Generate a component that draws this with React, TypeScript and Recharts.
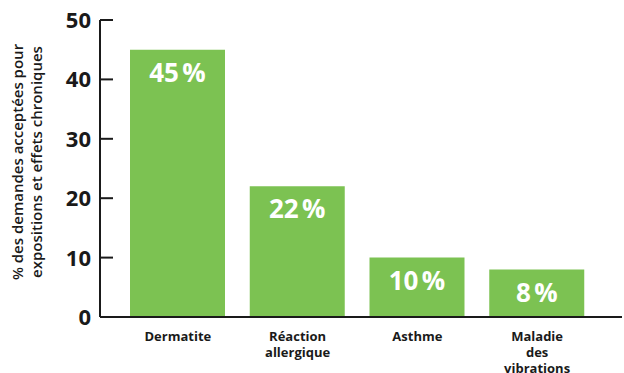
import { BarChart, Bar, XAxis, YAxis, LabelList } from 'recharts'

const categories = ['Dermatite', 'Réaction\nallergique', 'Asthme', 'Maladie\ndes\nvibrations']
const values = [45, 22, 10, 8]
const yTicks = [0, 10, 20, 30, 40, 50]
const yLabelLines = ['% des demandes acceptées pour', 'expositions et effets chroniques']

const GREEN = '#7cc252'
const FONT = '"Open Sans", "Noto Sans", sans-serif'

const data = categories.map((name, i) => ({ name, value: values[i] }))

const YTick = ({ x, y, payload }: any) => (
  <g>
    {payload.value !== 0 && <line x1={x} x2={x + 13} y1={y} y2={y} stroke="#1a1a1a" strokeWidth={2} />}
    <text x={x - 9} y={y} dy="0.36em" textAnchor="end" fontFamily={FONT} fontWeight={700} fontSize={22} fill="#1a1a1a">
      {payload.value}
    </text>
  </g>
)

const XTick = ({ x, y, payload }: any) => {
  const lines = String(payload.value).split('\n')
  return (
    <text x={x} y={y} textAnchor="middle" fontFamily={FONT} fontWeight={700} fontSize={13} fill="#1a1a1a">
      {lines.map((l, i) => (
        <tspan key={i} x={x} dy={i === 0 ? 24 : 16}>{l}</tspan>
      ))}
    </text>
  )
}

const YLabel = () => (
  <text transform="translate(23,162) rotate(-90)" textAnchor="middle" fontFamily={FONT} fontWeight={600} fontSize={15} fill="#1a1a1a">
    {yLabelLines.map((l, i) => (
      <tspan key={i} x={0} dy={i === 0 ? 0 : 19}>{l}</tspan>
    ))}
  </text>
)

const BarValue = ({ x, y, width, value }: any) => (
  <text x={x + width / 2} y={y + 23} dy="0.35em" textAnchor="middle" fontFamily={FONT} fontWeight={700} fontSize={26} fill="#fff">
    {`${value}\u202F%`}
  </text>
)

export default function App() {
  return (
    <div style={{ width: 624, height: 373, background: '#fff' }}>
      <style>{`body{margin:0}`}</style>
      <BarChart width={624} height={373} data={data} margin={{ top: 20, right: 2, bottom: 0, left: 0 }}>
        <XAxis
          dataKey="name"
          height={56}
          padding={{ left: 18, right: 25 }}
          axisLine={{ stroke: '#1a1a1a', strokeWidth: 2 }}
          tickLine={false}
          tickSize={0}
          tickMargin={0}
          tick={<XTick />}
          interval={0}
        />
        <YAxis
          width={100}
          domain={[0, 50]}
          ticks={yTicks}
          axisLine={{ stroke: '#1a1a1a', strokeWidth: 2 }}
          tickLine={false}
          tickSize={0}
          tickMargin={0}
          tick={<YTick />}
          label={{ content: <YLabel /> }}
        />
        <Bar dataKey="value" fill={GREEN} barSize={95} isAnimationActive={false}>
          <LabelList dataKey="value" content={<BarValue />} />
        </Bar>
      </BarChart>
    </div>
  )
}
